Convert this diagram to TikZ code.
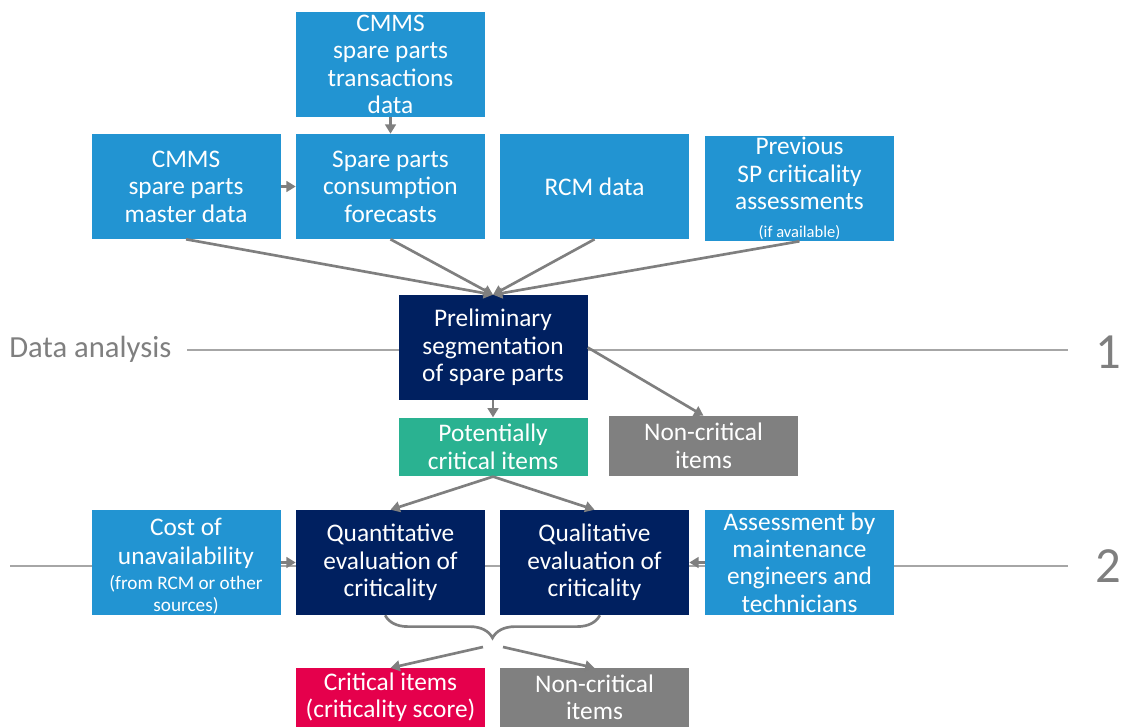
\documentclass[tikz,border=0pt]{standalone}
\usepackage{fontspec}
\setmainfont{Carlito}
\usetikzlibrary{arrows.meta,decorations.pathreplacing}
\definecolor{lblue}{RGB}{34,148,210}
\definecolor{navy}{RGB}{0,32,96}
\definecolor{tealgreen}{RGB}{42,178,145}
\definecolor{crimson}{RGB}{229,0,76}
\definecolor{boxgray}{RGB}{128,128,128}
\definecolor{arrgray}{RGB}{127,127,127}
\definecolor{rulegray}{RGB}{166,166,166}
\tikzset{
  box/.style={minimum width=141.75pt, minimum height=78.75pt, inner sep=0pt,
    align=center, text=white, font=\fontsize{19}{20.6}\selectfont},
  lowbox/.style={box, minimum height=44pt},
  arr/.style={draw=arrgray, line width=2pt, -{Triangle[length=7pt,width=8pt]}},
  sidelabel/.style={text=arrgray, font=\fontsize{23}{28}\selectfont}
}
\newcommand{\smalltxt}[1]{{\fontsize{14.4}{17}\selectfont #1}}
\begin{document}
\begin{tikzpicture}[x=0.75pt,y=-0.75pt]
\useasboundingbox (0,0) rectangle (1123,727);
\draw[rulegray, line width=0.8pt] (187,350) -- (1068,350);
\draw[rulegray, line width=0.8pt] (10,566) -- (1068,566);
\node[sidelabel, anchor=east] (lbla) at (176,349) {Data analysis};
\node[sidelabel, font=\fontsize{38}{40}\selectfont] (lblone) at (1108,352) {1};
\node[sidelabel, font=\fontsize{38}{40}\selectfont] (lbltwo) at (1108,566) {2};

\node[box, fill=lblue] (trans) at (390.5,64.5) {CMMS\\spare parts\\transactions\\data};
\node[box, fill=lblue] (master) at (186,186.5) {CMMS\\spare parts\\master data};
\node[box, fill=lblue] (fcast) at (390.5,186.5) {Spare parts\\consumption\\forecasts};
\node[box, fill=lblue] (rcm) at (594.5,186.5) {RCM data};
\node[box, fill=lblue] (prev) at (799.5,188.5) {Previous\\SP criticality\\assessments\\{\fontsize{12.4}{13}\selectfont (if available)}};
\node[box, fill=navy] (prelim) at (493,347.5) {Preliminary\\segmentation\\of spare parts};
\node[lowbox, fill=tealgreen] (potcrit) at (493,447) {Potentially\\critical items};
\node[lowbox, fill=boxgray, minimum height=45pt] (noncrita) at (703.5,446) {Non-critical\\items};
\node[box, fill=lblue] (cost) at (186,562.5) {\rule{0pt}{18pt}Cost of\\[1.5pt]unavailability\\[-2pt]\smalltxt{(from RCM or other}\\[-4.5pt]\smalltxt{sources)}};
\node[box, fill=navy] (quant) at (390.5,562.5) {Quantitative\\evaluation of\\criticality};
\node[box, fill=navy] (qual) at (594.5,562.5) {Qualitative\\evaluation of\\criticality};
\node[box, fill=lblue] (assess) at (799.5,562.5) {Assessment by\\maintenance\\engineers and\\technicians};
\node[lowbox, fill=crimson] (crit) at (390.5,697.5) {Critical items\\(criticality score)};
\node[lowbox, fill=boxgray] (noncritb) at (594.5,697.5) {Non-critical\\items};

\draw[arr] (trans) -- (fcast);
\draw[arr] (master) -- (fcast);
\foreach \src in {master,fcast,rcm,prev}
  \draw[arr] (\src.south) -- (prelim.north);
\draw[arr] (prelim) -- (potcrit);
\draw[arr] (prelim.east) -- (noncrita.north);
\draw[arr] (potcrit.south) -- (quant.north);
\draw[arr] (potcrit.south) -- (qual.north);
\draw[arr] (cost) -- (quant);
\draw[arr] (assess) -- (qual);
\draw[arrgray, line width=2pt, decorate, decoration={brace, mirror, amplitude=17pt}]
  ([xshift=-4pt]quant.south) -- ([xshift=4pt]qual.south);
\coordinate (brl) at (483,647);
\coordinate (brr) at (503,647);
\draw[arr] (brl) -- (crit.north);
\draw[arr] (brr) -- (noncritb.north);
\end{tikzpicture}
\end{document}
